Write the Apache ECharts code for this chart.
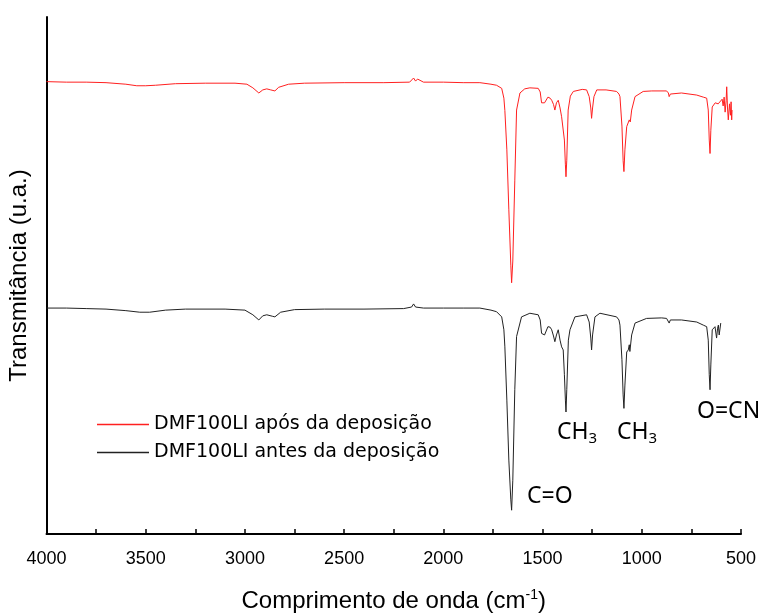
<!DOCTYPE html>
<html>
<head>
<meta charset="utf-8">
<script src="https://cdn.jsdelivr.net/npm/echarts@6/dist/echarts.min.js"></script>
<style>html,body{margin:0;padding:0;background:#fff;}#c{width:767px;height:613px;}</style>
</head>
<body>
<div id="c"></div>
<script>
// Wavenumbers (cm-1) and transmittance (arbitrary units)
const wnAfter = [4000,3900,3800,3700,3600,3545,3500,3450,3350,3200,3050,2990,2960,2930,2910,2890,2870,2849,2830,2780,2700,2500,2300,2170,2150,2140,2130,2100,2000,1900,1816,1760,1732,1706,1695,1690,1680,1670,1660,1656,1650,1640,1631,1614,1590,1564,1522,1512,1505,1490,1473,1462,1454,1445,1438,1430,1421,1412,1404,1396,1390,1385,1382,1378,1371,1360,1345,1300,1278,1265,1257,1253,1248,1241,1227,1180,1127,1115,1110,1100,1094,1090,1085,1076,1068,1063,1058,1051,1034,993,950,875,866,862,856,849,800,723,690,673,665,660,656,652,645,630,615,606,595,590,585,580,575,572,568,564,558,553,550,547,545];
const tAfter = [87.5,87.4,87.4,87.3,87.0,86.7,86.7,86.8,87.1,87.2,87.2,87.0,86.3,85.3,85.9,86.1,85.9,85.7,86.4,87.0,87.2,87.3,87.3,87.4,88.2,87.6,88.0,87.4,87.4,87.3,87.3,87.0,86.8,86.2,84.3,81.9,74.3,62.7,52.0,48.6,52.8,68.3,82.0,85.3,86.1,86.3,86.2,85.5,83.4,83.4,84.5,84.3,83.9,83.1,82.0,83.4,83.9,82.4,80.7,80.5,76.2,71.4,69.1,72.3,82.0,84.7,85.6,86.0,85.9,84.6,82.4,80.4,82.4,84.6,85.9,85.9,85.6,85.1,84.6,78.9,72.2,70.1,74.3,78.8,79.1,80.1,79.7,82.0,84.6,85.6,85.7,85.7,85.3,84.6,85.1,85.3,85.3,84.9,84.5,84.3,82.0,76.2,73.6,78.1,82.6,83.4,83.2,83.4,84.1,82.8,84.5,81.6,83.8,86.5,82.4,80.1,83.2,81.0,83.6,80.1,82.0];

const wnBefore = [4000,3900,3800,3700,3600,3530,3480,3400,3300,3100,3000,2960,2930,2910,2890,2860,2849,2820,2750,2600,2400,2200,2160,2150,2140,2100,2000,1900,1816,1760,1732,1706,1695,1690,1680,1670,1660,1656,1650,1640,1631,1606,1564,1522,1512,1505,1490,1473,1462,1454,1445,1438,1430,1421,1412,1404,1396,1390,1385,1382,1378,1370,1362,1337,1278,1265,1257,1253,1248,1236,1211,1127,1115,1110,1100,1094,1090,1085,1076,1068,1063,1060,1051,1034,976,900,875,866,862,856,849,800,723,690,673,665,660,656,652,645,638,631,623,618,614,610,606,602];
const tBefore = [43.7,43.7,43.6,43.5,43.2,42.9,42.9,43.3,43.5,43.5,43.3,42.4,41.4,42.2,42.4,42.1,42.0,42.9,43.4,43.5,43.5,43.6,43.9,44.5,43.9,43.7,43.7,43.7,43.7,43.3,43.0,42.0,39.5,36.2,25.9,14.3,6.6,4.6,10.4,27.9,38.2,42.0,42.7,42.4,41.4,38.8,38.5,40.1,40.0,39.5,38.3,37.2,38.5,39.5,37.5,36.2,35.6,30.8,25.9,23.6,27.9,37.5,39.5,42.0,42.4,41.0,37.9,35.6,38.5,42.0,42.7,42.0,41.4,40.4,33.7,26.9,24.3,28.8,35.2,35.6,36.6,35.3,38.5,40.8,41.7,41.8,41.7,41.4,40.8,41.4,41.5,41.4,41.0,40.4,40.1,37.5,30.8,27.9,32.7,39.5,39.8,40.1,37.9,39.8,40.4,38.5,38.8,40.8];

const seriesNames = ['DMF100LI após da deposição', 'DMF100LI antes da deposição'];
const xTickLabels = ['4000','3500','3000','2500','2000','1500','1000','500'];
const xTitle = 'Comprimento de onda (cm{sup|-1})';
const yTitle = 'Transmitância (u.a.)';

const chart = echarts.init(document.getElementById('c'), null, {renderer: 'canvas'});
const annFont = '"Noto Sans", "Open Sans", sans-serif';
const ann = (left, top, text) => ({
  type: 'text', left: left, top: top,
  style: {
    text: text, fill: '#000', font: '23px ' + annFont,
    rich: {
      n: {fontSize: 23, fontFamily: annFont, fill: '#000'},
      s: {fontSize: 15, fontFamily: annFont, fill: '#000', padding: [13, 0, 0, 0]}
    }
  }
});

chart.setOption({
  animation: false,
  backgroundColor: '#fff',
  grid: {left: 46.5, right: 26, top: 17, bottom: 79, containLabel: false, outerBoundsMode: 'none'},
  legend: {
    left: 92, top: 409, orient: 'vertical', itemGap: 7,
    icon: 'rect', itemWidth: 52, itemHeight: 1.5,
    textStyle: {fontFamily: 'DejaVu Sans', fontSize: 19, color: '#000', lineHeight: 21},
    data: seriesNames
  },
  xAxis: {
    type: 'value', inverse: true, min: 500, max: 4000, interval: 250,
    name: xTitle, nameLocation: 'middle', nameGap: 54,
    nameTextStyle: {fontFamily: 'Liberation Sans', fontSize: 24, color: '#000',
      rich: {sup: {fontSize: 14, fontFamily: 'Liberation Sans', color: '#000', verticalAlign: 'top', padding: [0, 0, 12, 0]}}},
    axisLine: {show: true, onZero: false, lineStyle: {color: '#000', width: 2}},
    axisTick: {show: true, inside: true, length: 5, lineStyle: {color: '#000', width: 1.5}},
    axisLabel: {color: '#000', fontFamily: 'Liberation Sans', fontSize: 18, margin: 16,
      formatter: v => (v % 500 === 0 && xTickLabels.includes(String(v))) ? String(v) : ''},
    splitLine: {show: false}
  },
  yAxis: {
    type: 'value', min: 0, max: 100,
    name: yTitle, nameLocation: 'middle', nameGap: 15,
    nameTextStyle: {fontFamily: 'Liberation Sans', fontSize: 24, color: '#000'},
    axisLine: {show: true, onZero: false, lineStyle: {color: '#000', width: 2}},
    axisTick: {show: false}, axisLabel: {show: false}, splitLine: {show: false}
  },
  series: [
    {name: seriesNames[0], type: 'line', showSymbol: false, color: '#ff2020',
     lineStyle: {width: 1, color: '#ff2020'},
     data: wnAfter.map((w, i) => [w, tAfter[i]])},
    {name: seriesNames[1], type: 'line', showSymbol: false, color: '#222',
     lineStyle: {width: 1, color: '#222'},
     data: wnBefore.map((w, i) => [w, tBefore[i]])}
  ],
  graphic: [
    ann(527, 485, '{n|C=O}'),
    ann(557, 421, '{n|CH}{s|3}'),
    ann(617, 421, '{n|CH}{s|3}'),
    ann(697, 400, '{n|O=CN}')
  ]
});
</script>
</body>
</html>
